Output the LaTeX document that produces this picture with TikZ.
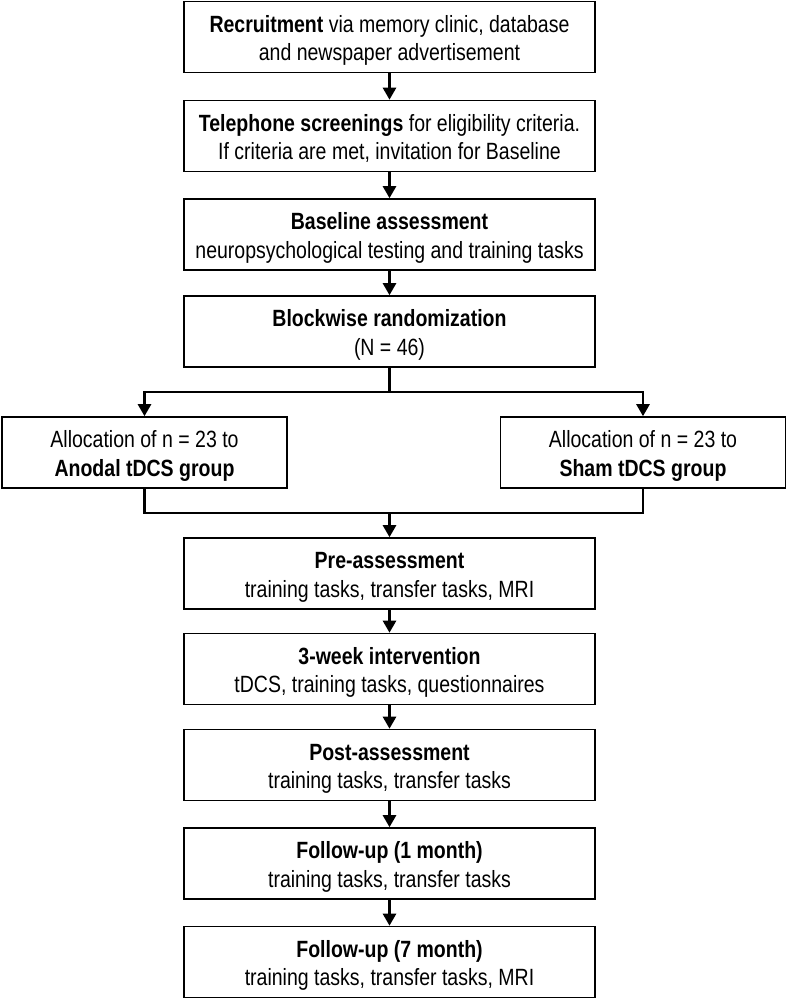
\documentclass[tikz,border=0pt]{standalone}
\usepackage{fontspec}
\setmainfont{Liberation Sans}[FakeStretch=0.83]
\usetikzlibrary{arrows.meta}
\tikzset{
  stepbox/.style={draw,line width=1.6pt,minimum width=411pt,minimum height=71pt,inner sep=0pt,align=center,
    text height=47pt,text depth=0pt,font=\fontsize{23.5}{28.3}\selectfont},
  sidebox/.style={stepbox,minimum width=285pt},
  link/.style={line width=2.6pt},
  arr/.style={link,-{Triangle[width=13pt,length=12pt]}}
}
\begin{document}
\begin{tikzpicture}[x=1pt,y=-1pt]
\useasboundingbox (0,0) rectangle (787,999);
\pgfmathsetmacro{\kx}{389.5}
\node[stepbox] (recruit) at (\kx,37) {\textbf{Recruitment} via memory clinic, database\\and newspaper advertisement};
\node[stepbox] (phone) at (\kx,136) {\textbf{Telephone screenings} for eligibility criteria.\\If criteria are met, invitation for Baseline};
\node[stepbox] (base) at (\kx,234.5) {\textbf{Baseline assessment}\\neuropsychological testing and training tasks};
\node[stepbox] (rand) at (\kx,331.5) {\textbf{Blockwise randomization}\\(N = 46)};
\node[sidebox] (anodal) at (144.5,452.5) {Allocation of n = 23 to\\\textbf{Anodal tDCS group}};
\node[sidebox] (sham) at (643,452.5) {Allocation of n = 23 to\\\textbf{Sham tDCS group}};
\node[stepbox] (pre) at (\kx,573.5) {\textbf{Pre-assessment}\\training tasks, transfer tasks, MRI};
\node[stepbox] (interv) at (\kx,669) {\textbf{3-week intervention}\\tDCS, training tasks, questionnaires};
\node[stepbox] (post) at (\kx,765) {\textbf{Post-assessment}\\training tasks, transfer tasks};
\node[stepbox] (follow1) at (\kx,863.5) {\textbf{Follow-up (1 month)}\\training tasks, transfer tasks};
\node[stepbox] (follow7) at (\kx,962) {\textbf{Follow-up (7 month)}\\training tasks, transfer tasks, MRI};
\coordinate (split) at (\kx,392);
\coordinate (merge) at (\kx,513);
\draw[arr] (recruit)--(phone);
\draw[arr] (phone)--(base);
\draw[arr] (base)--(rand);
\draw[link] (rand)--(split);
\draw[arr] (split)-|(anodal);
\draw[arr] (split)-|(sham);
\draw[link] (anodal)|-(merge)-|(sham);
\draw[arr] (merge)--(pre);
\draw[arr] (pre)--(interv);
\draw[arr] (interv)--(post);
\draw[arr] (post)--(follow1);
\draw[arr] (follow1)--(follow7);
\end{tikzpicture}
\end{document}
